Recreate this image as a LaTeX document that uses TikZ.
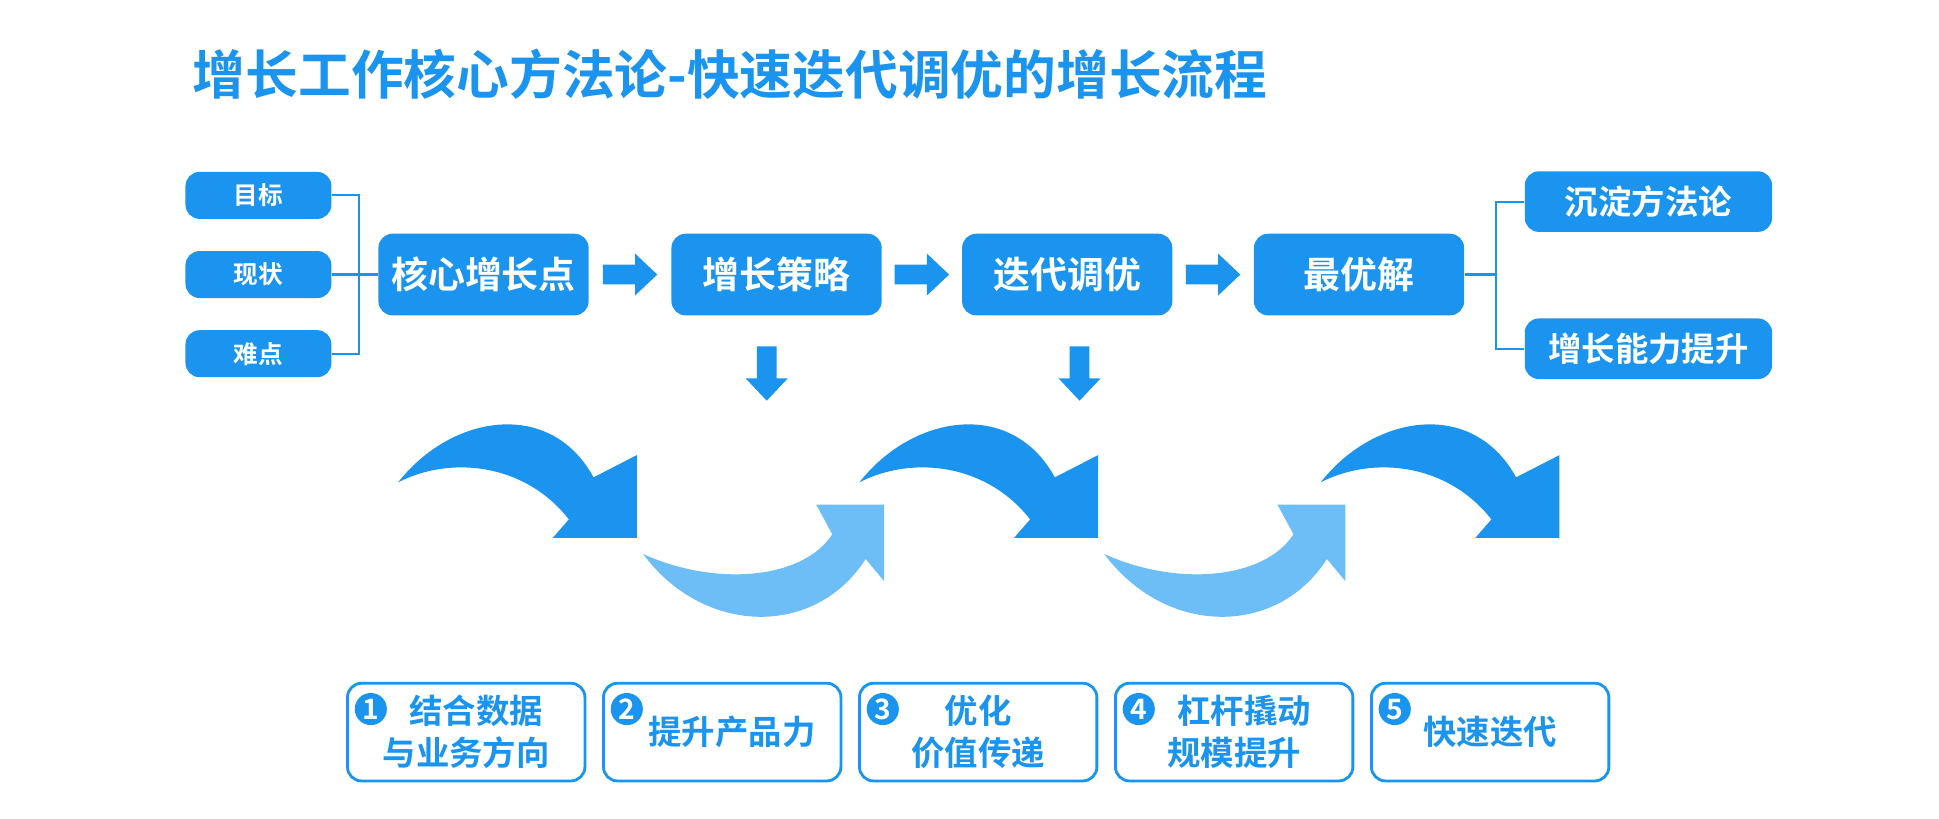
\documentclass[tikz,border=0pt]{standalone}
\usepackage{fontspec}
\setmainfont{Noto Sans CJK SC}[BoldFont=* Bold]
\usetikzlibrary{positioning,calc}

\definecolor{bluemain}{HTML}{1A94EE}
\definecolor{bluelight}{HTML}{6DBDF6}

\def\u{0.012366cm}   %one pixel of the layout grid

\begin{document}
\begin{tikzpicture}[x=\u,y=-\u,font=\bfseries,
  box/.style={rounded corners=4pt,fill=bluemain,text=white,inner sep=0pt},
  small/.style={box,minimum width=118*\u,minimum height=38*\u,font=\bfseries\fontsize{7pt}{8pt}\selectfont},
  big/.style={box,minimum width=170*\u,minimum height=66*\u,font=\bfseries\fontsize{10.5pt}{12pt}\selectfont},
  side/.style={box,minimum width=200*\u,minimum height=49*\u,font=\bfseries\fontsize{9.5pt}{11pt}\selectfont},
  stepbox/.style={rounded corners=4pt,draw=bluemain,line width=0.8pt,minimum width=192*\u,minimum height=79*\u,
    text=bluemain,align=center,font=\bfseries\fontsize{9.5pt}{12pt}\selectfont},
  num/.style={circle,fill=bluemain,text=white,inner sep=0pt,minimum size=26*\u,font=\bfseries\fontsize{8pt}{9pt}\selectfont},
  go/.pic={\fill[bluemain] (-22,-8) -- (4,-8) -- (4,-17) -- (22,0) -- (4,17) -- (4,8) -- (-22,8) -- cycle;},
  link/.style={draw=bluemain,line width=0.6pt}]
\useasboundingbox (0,0) rectangle (1568,662);

% Title
\node[anchor=west,text=bluemain,font=\bfseries\fontsize{15pt}{17pt}\selectfont] (title) at (146,60)
  {增长工作核心方法论-快速迭代调优的增长流程};

% Inputs
\node[small] (goal) at (209,158) {目标};
\node[small] (state) at (209,222) {现状};
\node[small] (pain) at (209,286) {难点};

% Main flow
\node[big] (core) at (391,222) {核心增长点};
\node[big] (plan) at (628,222) {增长策略};
\node[big] (iter) at (863,222) {迭代调优};
\node[big] (best) at (1099,222) {最优解};

\pic at ($(core.east)!0.5!(plan.west)$) {go};
\pic at ($(plan.east)!0.5!(iter.west)$) {go};
\pic at ($(iter.east)!0.5!(best.west)$) {go};

% Outputs
\node[side] (method) at (1333,163) {沉淀方法论};
\node[side] (ability) at (1333,282) {增长能力提升};

% Brackets
\coordinate (lj) at (290,222);
\draw[link] (goal.east) -| (lj) (pain.east) -| (lj) (state.east) -- (core.west);
\coordinate (rj) at (1210,222);
\draw[link] (method.west) -| (rj) (ability.west) -| (rj) (best.east) -- (rj);

% Down arrows
\pic[rotate=-90] at (620,302) {go};
\pic[rotate=-90] at (873,302) {go};

% Curved arrows
\foreach \dx in {0,373,746}{
  \fill[bluemain,shift={(\dx,0)}] (322,390) .. controls (365,335) and (445,322) .. (480,386)
    -- (515,368) -- (515,435) -- (447,435) -- (460,420)
    .. controls (425,375) and (365,368) .. (322,390) -- cycle;
}
\foreach \dx in {0,373}{
  \fill[bluelight,shift={(\dx,0)}] (520,448) .. controls (580,475) and (650,468) .. (673,432)
    -- (660,408) -- (715,408) -- (715,470) -- (700,452)
    .. controls (660,515) and (570,515) .. (520,448) -- cycle;
}

% Steps
\foreach \i/\txt in {1/{\phantom{0}结合数据\\与业务方向},2/{\phantom{0}提升产品力},3/{优化\\价值传递},4/{\phantom{0}杠杆撬动\\规模提升},5/{快速迭代}}{
  \node[stepbox] (s\i) at ({377+207*(\i-1)},592) {\txt};
  \node[num] (n\i) at ($(s\i.north west)+(20,22)$) {\i};
}
\end{tikzpicture}
\end{document}
